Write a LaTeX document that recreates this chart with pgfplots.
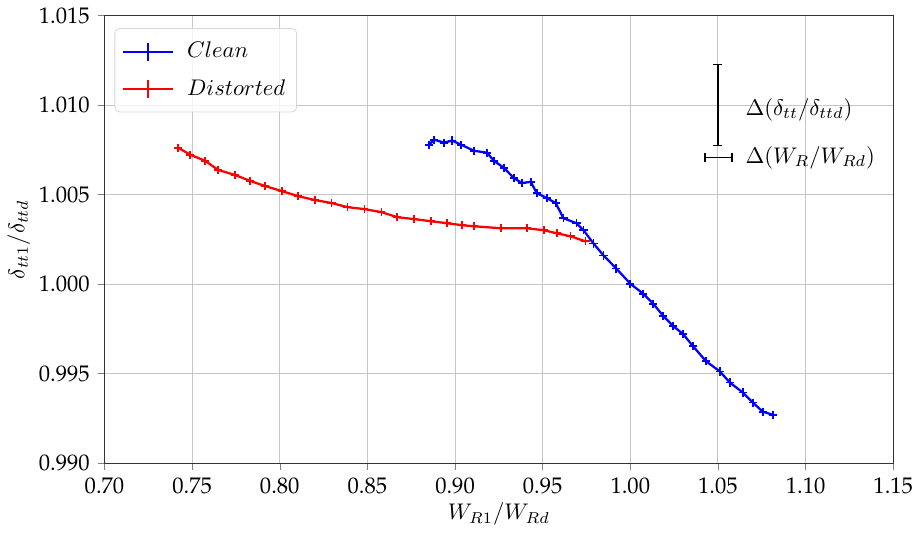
\documentclass[border=0pt]{standalone}
\usepackage[T1]{fontenc}
\renewcommand{\rmdefault}{ppl}
\usepackage{pgfplots}
\pgfplotsset{compat=1.18}
\begin{document}
\begin{tikzpicture}[x=1pt,y=1pt]
\begin{axis}[
  scale only axis,
  width=349pt, height=198pt,
  xmin=0.70, xmax=1.15, ymin=0.990, ymax=1.015,
  xtick={0.70,0.75,...,1.15},
  ytick={0.990,0.995,1.000,1.005,1.010,1.015},
  /pgf/number format/assume math mode=true,
  xticklabel style={inner xsep=0pt, /pgf/number format/.cd, fixed, fixed zerofill, precision=2},
  yticklabel style={/pgf/number format/.cd, fixed, fixed zerofill, precision=3},
  scaled ticks=false,
  tick align=outside, tick pos=left,
  major tick length=3pt,
  grid=major,
  grid style={gray!45, line width=0.4pt},
  axis line style={black!80, line width=0.5pt},
  xlabel={$W_{R1}/W_{Rd}$},
  ylabel={$\delta_{tt1}/\delta_{ttd}$},
  xlabel style={yshift=3pt},
  ylabel style={yshift=-3pt},
  legend style={at={(0.0126,0.972)}, anchor=north west, draw=gray!30, rounded corners=2pt, fill=white, fill opacity=0.8, text opacity=1, row sep=4pt, inner xsep=3pt, inner ysep=4pt,
    /tikz/every even column/.append style={column sep=4pt},
    /tikz/every odd column/.append style={column sep=4pt}},
  legend cell align=left,
  legend image code/.code={
    \draw[#1, mark=none] (0pt,0pt) -- (22pt,0pt);
    \draw[#1, mark size=4pt] plot coordinates {(11pt,0pt)};
  },
]
\addplot[blue, line width=1pt, mark=+, mark size=1.8pt, mark options={line width=0.8pt}] coordinates {
(0.8852,1.00779) (0.8881,1.00807) (0.8938,1.00790) (0.8983,1.00802) (0.9034,1.00779)
(0.9108,1.00745) (0.9182,1.00734) (0.9222,1.00689) (0.9278,1.00650) (0.9335,1.00593)
(0.9381,1.00565) (0.9432,1.00571) (0.9466,1.00509) (0.9523,1.00481) (0.9574,1.00453)
(0.9619,1.00368) (0.9693,1.00340) (0.9733,1.00301) (0.9790,1.00227) (0.9847,1.00160)
(0.9920,1.00087) (1.0000,1.00002) (1.0074,0.99946) (1.0131,0.99890) (1.0188,0.99822)
(1.0244,0.99766) (1.0301,0.99721) (1.0358,0.99653) (1.0432,0.99569) (1.0511,0.99512)
(1.0568,0.99450) (1.0642,0.99394) (1.0699,0.99338) (1.0756,0.99287) (1.0813,0.99270)
};
\addlegendentry{$Clean$}
\addplot[red, line width=1pt, mark=+, mark size=1.8pt, mark options={line width=0.8pt}] coordinates {
(0.7420,1.00762) (0.7489,1.00723) (0.7574,1.00689) (0.7648,1.00638) (0.7744,1.00610)
(0.7830,1.00577) (0.7915,1.00548) (0.8011,1.00520) (0.8102,1.00492) (0.8199,1.00470)
(0.8295,1.00453) (0.8386,1.00430) (0.8483,1.00419) (0.8580,1.00402) (0.8670,1.00374)
(0.8767,1.00363) (0.8864,1.00351) (0.8955,1.00340) (0.9040,1.00329) (0.9108,1.00323)
(0.9261,1.00312) (0.9409,1.00312) (0.9506,1.00301) (0.9580,1.00284) (0.9659,1.00267)
(0.9744,1.00239)
};
\addlegendentry{$Distorted$}
\addplot[black, mark=none, forget plot, error bars/.cd, y dir=both, y explicit,
  error mark=|, error bar style={black, line width=0.5pt}, error mark options={black, mark size=2pt, line width=0.5pt}]
  coordinates {(1.05,1.010) +- (0,0.00225)};
\addplot[black, mark=none, forget plot, error bars/.cd, x dir=both, x explicit,
  error mark=|, error bar style={black, line width=0.5pt}, error mark options={black, mark size=2pt, line width=0.5pt}]
  coordinates {(1.0503,1.00706) +- (0.0077,0)};
\node[anchor=west, inner sep=0pt] at (axis cs:1.0655,1.00976) {$\Delta(\delta_{tt}/\delta_{ttd})$};
\node[anchor=west, inner sep=0pt] at (axis cs:1.0655,1.00706) {$\Delta(W_R/W_{Rd})$};
\end{axis}
\end{tikzpicture}
\end{document}
